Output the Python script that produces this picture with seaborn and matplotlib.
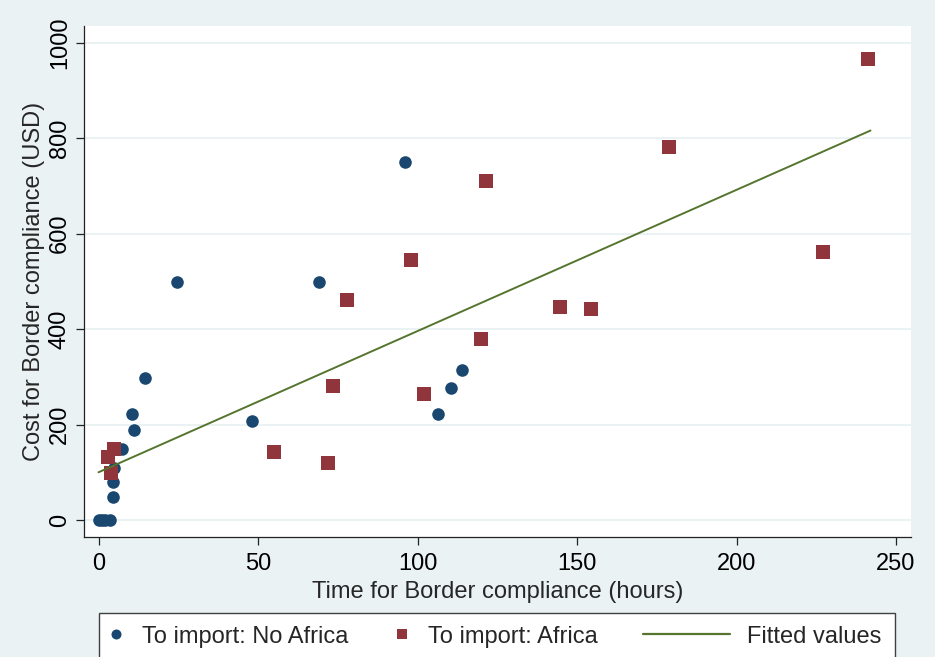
import matplotlib
matplotlib.use("Agg")
import matplotlib.pyplot as plt
import seaborn as sns
import pandas as pd
from matplotlib.lines import Line2D
from matplotlib.patches import Rectangle

# ---- data ----
noafr_time = [0, 1, 2, 3.5, 4.5, 4.5, 5, 7.5, 10.5, 11, 14.5, 24.5, 48, 69, 96, 106.5, 110.5, 113.8]
noafr_cost = [0, 0, 0, 0, 48, 80, 109, 149, 222, 189, 298, 499, 208, 499, 750, 222, 277, 314]

afr_time = [3, 4, 4.7, 55, 72, 73.5, 78, 98, 102, 120, 121.6, 144.7, 154.4, 178.8, 227, 241.3]
afr_cost = [132, 98, 149, 142, 119, 281, 461, 545, 264, 379, 711, 446, 442, 782, 562, 966]

fit_time = [0, 242]
fit_cost = [100, 816]

xticks = [0, 50, 100, 150, 200, 250]
yticks = [0, 200, 400, 600, 800, 1000]

xlabel = "Time for Border compliance (hours)"
ylabel = "Cost for Border compliance (USD)"
legend_labels = ["To import: No Africa", "To import: Africa", "Fitted values"]

# ---- style ----
BG = "#eaf2f3"
BLUE = "#1a476f"
RED = "#90353b"
GREEN = "#55752f"
FS = 17

sns.set_theme(style="white")
plt.rcParams["font.family"] = ["Liberation Sans", "DejaVu Sans"]

W, H = 935, 657
fig = plt.figure(figsize=(W / 100, H / 100), dpi=100, facecolor=BG)
ax = fig.add_axes([84 / W, (H - 537) / H, (911 - 84) / W, (537 - 26) / H])
ax.set_facecolor("white")

df_n = pd.DataFrame({"t": noafr_time, "c": noafr_cost})
df_a = pd.DataFrame({"t": afr_time, "c": afr_cost})
df_f = pd.DataFrame({"t": fit_time, "c": fit_cost})

sns.scatterplot(data=df_n, x="t", y="c", ax=ax, color=BLUE, marker="o", s=82,
                linewidth=0, zorder=3)
sns.scatterplot(data=df_a, x="t", y="c", ax=ax, color=RED, marker="s", s=90,
                linewidth=0, zorder=3)
sns.lineplot(data=df_f, x="t", y="c", ax=ax, color=GREEN, linewidth=1.4, zorder=4)

ax.set_xlim(-4.55, 254.7)
ax.set_ylim(-35.6, 1035)
ax.set_xticks(xticks)
ax.set_yticks(yticks)
ax.set_xticklabels([str(v) for v in xticks], fontsize=FS)
ax.set_yticklabels([str(v) for v in yticks], fontsize=FS, rotation=90, va="center")
ax.tick_params(axis="both", direction="out", length=5.5, width=0.9, color="#222222",
               labelcolor="black", left=True, bottom=True)
ax.tick_params(axis="x", pad=6)
ax.tick_params(axis="y", pad=4)

ax.grid(axis="y", color=BG, linewidth=1.4)
ax.grid(axis="x", visible=False)
ax.set_axisbelow(True)

for side in ["top", "right"]:
    ax.spines[side].set_visible(False)
for side in ["left", "bottom"]:
    ax.spines[side].set_color("#222222")
    ax.spines[side].set_linewidth(0.9)

ax.set_xlabel(xlabel, fontsize=FS, labelpad=4)
ax.set_ylabel(ylabel, fontsize=FS, labelpad=3)

# ---- legend box ----
fig.patches.append(Rectangle((99 / W, -0.05), (895 - 99) / W, (0.05 + (H - 613) / H),
                             transform=fig.transFigure, facecolor="white",
                             edgecolor="#404040", linewidth=1.0, zorder=0))

yc = 1 - 636.7 / H
h1 = Line2D([], [], color=BLUE, marker="o", linestyle="none", markersize=7.2,
            markeredgewidth=0)
h2 = Line2D([], [], color=RED, marker="s", linestyle="none", markersize=7.5,
            markeredgewidth=0)
h3 = Line2D([], [], color=GREEN, linewidth=1.6)

em = FS * 100 / 72.0
for h, lab, x0, hl, hp in [
    (h1, legend_labels[0], 103.85, 1.0, 0.61),
    (h2, legend_labels[1], 389.85, 1.0, 0.61),
    (h3, legend_labels[2], 643.0, 87 / em, 0.72),
]:
    fig.legend([h], [lab], loc="center left", bbox_to_anchor=(x0 / W, yc),
               frameon=False, fontsize=FS, handlelength=hl, handletextpad=hp,
               borderpad=0, borderaxespad=0)

fig.savefig("out.png", dpi=100, facecolor=BG)
